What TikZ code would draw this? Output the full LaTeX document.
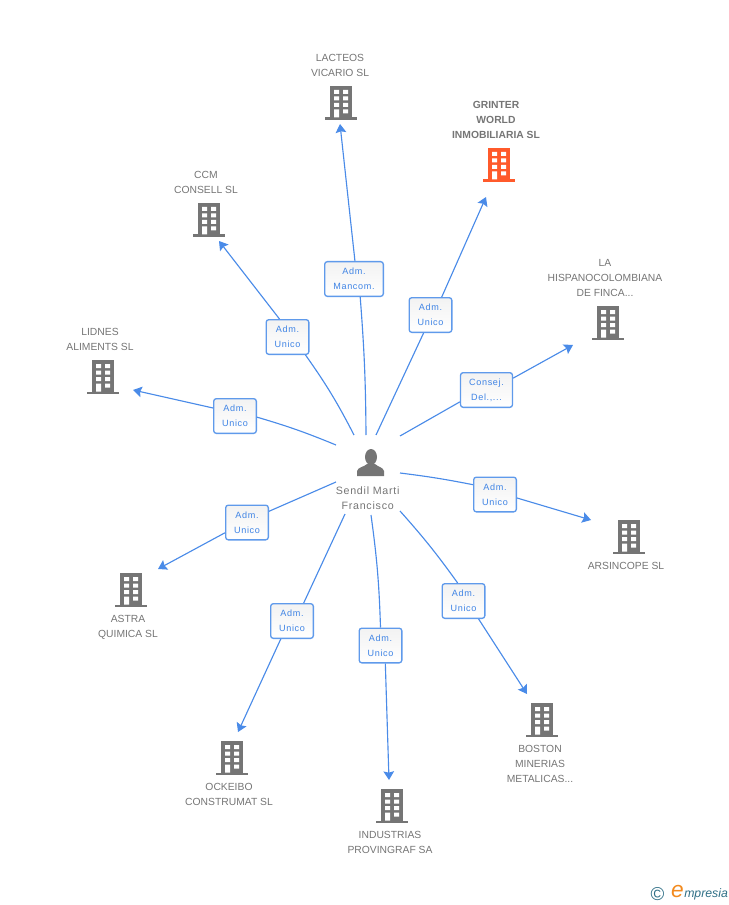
\documentclass[tikz,border=0pt]{standalone}
\usepackage{fontspec}
\setmainfont{Liberation Sans}
\newfontfamily\spacedfont[LetterSpace=7]{Liberation Sans}
\usetikzlibrary{arrows.meta,positioning}
\definecolor{bldgrey}{HTML}{757575}
\definecolor{bldred}{HTML}{FF5A2B}
\definecolor{linkblue}{HTML}{4A8BE8}
\definecolor{boxblue}{HTML}{5F9AEB}
\definecolor{textblue}{HTML}{3F84E5}
\definecolor{logoteal}{HTML}{2F6F86}
\definecolor{logoorange}{HTML}{F28A1E}
\tikzset{
  pics/building/.style={code={
    \fill[#1] (-11,-17) rectangle (11,14.5);
    \fill[#1] (-16,14.5) rectangle (16,17);
    \fill[white] (-7,-13) rectangle (-2,-9) (2,-13) rectangle (7,-9)
                 (-7,-6.5) rectangle (-2,-2.5) (2,-6.5) rectangle (7,-2.5)
                 (-7,0) rectangle (-2,4) (2,0) rectangle (7,4)
                 (-7,6.5) rectangle (-2,14.5) (2,6.5) rectangle (7,10.5);
  }},
  bldg/.style={inner sep=0pt,minimum size=25.5pt},
  company/.style={inner sep=0pt,align=center,text=bldgrey,xshift=-2.25pt,font=\fontsize{7.75}{11.25}\selectfont},
  role/.style={draw=boxblue,top color=black!5,bottom color=white,rounded corners=2pt,line width=1pt,text=textblue,
               align=center,inner sep=0pt,minimum height=26pt,
               font=\spacedfont\fontsize{6.8}{11.25}\selectfont},
  link/.style={draw=linkblue,line width=0.85pt,-},
  linkend/.style={draw=linkblue,line width=0.85pt,-{Stealth[length=6.5pt,width=8pt,inset=1pt]}}
}
\begin{document}
\begin{tikzpicture}[x=0.75pt,y=-0.75pt]
  \useasboundingbox (0,0) rectangle (728,905);

  % companies
  \node[bldg] (lacteos) at (341,103) {};
  \node[bldg] (grinter) at (499,165) {};
  \node[bldg] (ccm)     at (209,220) {};
  \node[bldg] (lidnes)  at (103,377) {};
  \node[bldg] (hispano) at (608,323) {};
  \node[bldg] (arsin)   at (629,537) {};
  \node[bldg] (boston)  at (542,720) {};
  \node[bldg] (indus)   at (392,806) {};
  \node[bldg] (ockeibo) at (232,758) {};
  \node[bldg] (astra)   at (131,590) {};
  \pic at (lacteos) {building=bldgrey};
  \pic at (grinter) {building=bldred};
  \pic at (ccm)     {building=bldgrey};
  \pic at (lidnes)  {building=bldgrey};
  \pic at (hispano) {building=bldgrey};
  \pic at (arsin)   {building=bldgrey};
  \pic at (boston)  {building=bldgrey};
  \pic at (indus)   {building=bldgrey};
  \pic at (ockeibo) {building=bldgrey};
  \pic at (astra)   {building=bldgrey};

  \node[company,above=6.5pt of lacteos,xshift=1.5pt] (lacteosname) {LACTEOS\\VICARIO SL};
  \node[company,above=6.5pt of grinter,font=\bfseries\fontsize{7.75}{11.25}\selectfont] (grintername) {GRINTER\\WORLD\\INMOBILIARIA SL};
  \node[company,above=6.5pt of ccm] (ccmname) {CCM\\CONSELL SL};
  \node[company,above=6.5pt of lidnes] (lidnesname) {LIDNES\\ALIMENTS SL};
  \node[company,above=6.5pt of hispano] (hispanoname) {LA\\HISPANOCOLOMBIANA\\DE FINCA...};
  \node[company,below=5.75pt of arsin] (arsinname) {ARSINCOPE SL};
  \node[company,below=5.75pt of boston,xshift=0.75pt] (bostonname) {BOSTON\\MINERIAS\\METALICAS...};
  \node[company,below=5.75pt of indus,xshift=0.75pt] (indusname) {INDUSTRIAS\\PROVINGRAF SA};
  \node[company,below=5.75pt of ockeibo] (ockeiboname) {OCKEIBO\\CONSTRUMAT SL};
  \node[company,below=5.75pt of astra] (astraname) {ASTRA\\QUIMICA SL};

  % person
  \node[inner sep=0pt,minimum width=20pt,minimum height=21pt] (person) at (371,463) {};
  \fill[bldgrey] (371,457) ellipse (6 and 8);
  \fill[bldgrey] (357,476) -- (357,471) .. controls (358,467) and (364,467) .. (367,464)
    -- (375,464) .. controls (378,467) and (383,467) .. (384,471) -- (384,476) -- cycle;
  \node[company,below=7pt of person,xshift=-0.25pt,font=\spacedfont\fontsize{8}{11.25}\selectfont] (personname) {Sendil Marti\\Francisco};

  % role boxes
  \node[role,minimum width=44pt] (mancom) at (354,279) {Adm.\\Mancom.};
  \node[role,minimum width=32pt] (grinterrole) at (430.5,315) {Adm.\\Unico};
  \node[role,minimum width=32pt] (ccmrole) at (287.5,337) {Adm.\\Unico};
  \node[role,minimum width=32pt] (lidnesrole) at (235,416) {Adm.\\Unico};
  \node[role,minimum width=39pt] (consej) at (486.5,390) {Consej.\\Del.,...};
  \node[role,minimum width=32pt] (arsinrole) at (495,494.5) {Adm.\\Unico};
  \node[role,minimum width=32pt] (bostonrole) at (463.5,601) {Adm.\\Unico};
  \node[role,minimum width=32pt] (indusrole) at (380.5,645.5) {Adm.\\Unico};
  \node[role,minimum width=32pt] (ockeiborole) at (292,621) {Adm.\\Unico};
  \node[role,minimum width=32pt] (astrarole) at (247,522.5) {Adm.\\Unico};

  % free ends
  \coordinate (s1) at (366,435);   \coordinate (e1) at (340,124);
  \coordinate (s2) at (376,435);   \coordinate (e2) at (486,197);
  \coordinate (s3) at (354,435);   \coordinate (e3) at (219,241);
  \coordinate (s4) at (336,445);   \coordinate (e4) at (133,390);
  \coordinate (s5) at (400,436);   \coordinate (e5) at (573,345);
  \coordinate (s6) at (400,473);   \coordinate (e6) at (591,520);
  \coordinate (s7) at (400,511);   \coordinate (e7) at (527,694);
  \coordinate (s8) at (371,515);   \coordinate (e8) at (389,780);
  \coordinate (s9) at (345,514);   \coordinate (e9) at (238,732);
  \coordinate (s10) at (336,482);  \coordinate (e10) at (158,569);

  \path[every edge/.style={link}]
        (s1) edge[bend right=2] (mancom.-71)
        (s2) edge (grinterrole.249)
        (s3) edge[bend right=4] (ccmrole.-45)
        (s4) edge[bend right=3] (lidnesrole.-3)
        (s5) edge (consej.204)
        (s6) edge[bend left=2] (arsinrole.156)
        (s7) edge[bend left=3] (bostonrole.108)
        (s8) edge[bend left=3] (indusrole.90)
        (s9) edge (ockeiborole.57)
        (s10) edge (astrarole.27);
  \path[every edge/.style={linkend}]
        (mancom.87) edge (e1)
        (grinterrole.58) edge (e2)
        (ccmrole.114) edge (e3)
        (lidnesrole.160) edge (e4)
        (consej.24) edge (e5)
        (arsinrole.-9) edge (e6)
        (bostonrole.-50) edge (e7)
        (indusrole.-75) edge (e8)
        (ockeiborole.238) edge (e9)
        (astrarole.205) edge (e10);

  % logo
  \node[inner sep=0pt,text=logoteal,font=\fontsize{14}{14}\selectfont] (copy) at (657.5,894) {©};
  \node[inner sep=0pt,text=logoorange,font=\fontsize{17}{17}\selectfont\itshape] (logoe) at (677.5,891.5) {e};
  \node[inner sep=0pt,text=logoteal,anchor=west,font=\fontsize{9.2}{12}\selectfont\itshape] (logotext) at (684,894) {mpresia};
\end{tikzpicture}
\end{document}
